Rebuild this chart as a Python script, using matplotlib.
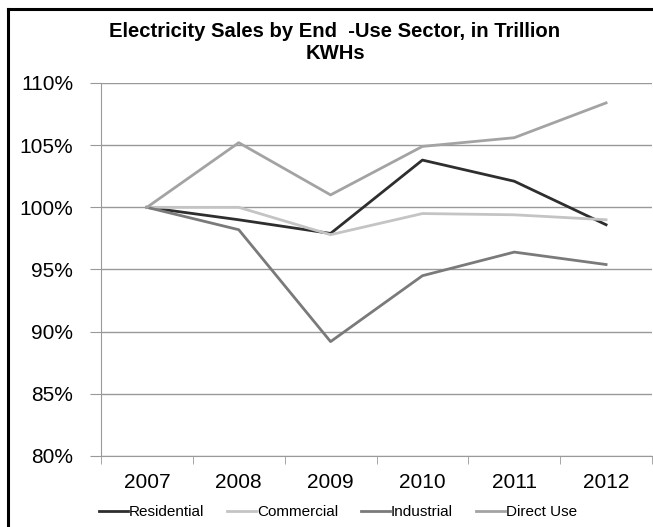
import matplotlib
matplotlib.use("Agg")
import matplotlib.pyplot as plt
from matplotlib.ticker import FixedLocator, PercentFormatter
import numpy as np

plt.rcParams['font.family'] = ['Liberation Sans', 'DejaVu Sans']

years = ['2007', '2008', '2009', '2010', '2011', '2012']
residential = [100.0, 99.0, 97.9, 103.8, 102.1, 98.6]
commercial = [100.0, 100.0, 97.8, 99.5, 99.4, 99.0]
industrial = [100.0, 98.2, 89.2, 94.5, 96.4, 95.4]
direct_use = [100.0, 105.2, 101.0, 104.9, 105.6, 108.4]

series = [
    ('Residential', residential, '#2e2e2e'),
    ('Commercial', commercial, '#c4c4c4'),
    ('Industrial', industrial, '#7a7a7a'),
    ('Direct Use', direct_use, '#a3a3a3'),
]

fig = plt.figure(figsize=(6.53, 5.27), dpi=100)
ax = fig.add_axes([101 / 653, 1 - 456 / 527, 551 / 653, 373 / 527])

x = np.arange(len(years))
for name, vals, col in series:
    ax.plot(x, vals, color=col, lw=2, label=name)

ax.set_xlim(-0.5, len(years) - 0.5)
ax.set_ylim(80, 110)
ax.set_yticks(np.arange(80, 111, 5))
ax.yaxis.set_major_formatter(PercentFormatter(decimals=0))
ax.set_xticks(x)
ax.set_xticklabels(years)
ax.xaxis.set_minor_locator(FixedLocator(np.arange(-0.5, len(years), 1)))
ax.tick_params(axis='x', which='major', length=0, pad=12, labelsize=15)
ax.tick_params(axis='x', which='minor', length=6, color='#999999')
ax.tick_params(axis='y', length=8, color='#999999', pad=12, labelsize=15)
ax.grid(axis='y', color='#999999', lw=1)
for s in ['top', 'right']:
    ax.spines[s].set_visible(False)
ax.spines['left'].set_color('#999999')
ax.spines['bottom'].set_color('#999999')

fig.text(335 / 653, 1 - 42.5 / 527, 'Electricity Sales by End  -Use Sector, in Trillion\nKWHs',
         ha='center', va='center', fontsize=14.6, fontweight='bold', linespacing=1.15)

fig.legend(loc='center', bbox_to_anchor=(338 / 653, 1 - 512 / 527), ncol=4, frameon=False,
           fontsize=11, handlelength=1.9, handletextpad=0.05, columnspacing=1.5)

# outer chart frame
fig.add_artist(plt.Line2D([8 / 653, 8 / 653], [0, 1 - 9 / 527], color='black', lw=2.2,
                          transform=fig.transFigure))
fig.add_artist(plt.Line2D([8 / 653, 1], [1 - 9 / 527, 1 - 9 / 527], color='black', lw=2.2,
                          transform=fig.transFigure))

fig.savefig('out.png', dpi=100)
